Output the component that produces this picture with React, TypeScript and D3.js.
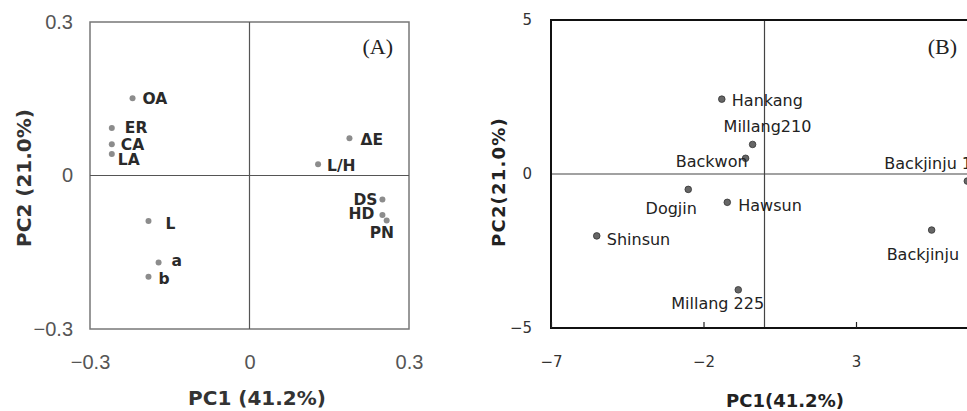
import * as d3 from "d3";
import React, { useEffect, useRef } from "react";

// (A) loadings of the quality variables
const varNames = ["OA", "ER", "CA", "LA", "L", "a", "b", "ΔE", "L/H", "DS", "HD", "PN"];
const varPC1 = [-0.22, -0.259, -0.259, -0.259, -0.19, -0.171, -0.19, 0.188, 0.129, 0.25, 0.25, 0.258];
const varPC2 = [0.151, 0.093, 0.061, 0.042, -0.089, -0.17, -0.198, 0.073, 0.022, -0.047, -0.077, -0.088];
const loadTicks = [-0.3, 0, 0.3];

// (B) scores of the cultivars
const cultivars = ["Hankang", "Millang210", "Backwon", "Dogjin", "Hawsun", "Shinsun", "Millang 225", "Backjinju", "Backjinju 1"];
const cultPC1 = [-1.4, -0.39, -0.62, -2.5, -1.22, -5.5, -0.86, 5.48, 6.65];
const cultPC2 = [2.43, 0.96, 0.51, -0.5, -0.92, -2.01, -3.76, -1.82, -0.23];
const scoreXTicks = [-7, -2, 3];
const scoreYTicks = [-5, 0, 5];

// label placement beside each dot: dx, dy, anchor
const varLabelPos: [number, number, string][] = [
  [10, 0, "start"], [13, 0, "start"], [9, 0, "start"], [6, 5, "start"],
  [17, 2, "start"], [13, -2, "start"], [10, 2, "start"], [11, 1, "start"],
  [9, 1, "start"], [-5, 0, "end"], [-8, -1, "end"], [-17, 12, "start"],
];
const cultLabelPos: [number, number, string][] = [
  [10, 1, "start"], [-29, -18, "start"], [2, 3, "end"], [-17, 19, "middle"],
  [11, 3, "start"], [10, 3, "start"], [-67, 13, "start"], [-45, 24, "start"],
  [-83, -18, "start"],
];

export default function App() {
  const svgRef = useRef<SVGSVGElement>(null);

  useEffect(() => {
    const svg = d3.select(svgRef.current);
    svg.selectAll("*").remove();

    // ---------- panel A ----------
    const xA = d3.scaleLinear().domain([-0.3, 0.3]).range([90, 409]);
    const yA = d3.scaleLinear().domain([-0.3, 0.3]).range([329, 22]);
    const gA = svg.append("g");

    gA.append("rect")
      .attr("x", xA(-0.3)).attr("y", yA(0.3))
      .attr("width", xA(0.3) - xA(-0.3)).attr("height", yA(-0.3) - yA(0.3))
      .attr("fill", "none").attr("stroke", "#777").attr("stroke-width", 1.5);
    gA.append("line")
      .attr("x1", xA(0)).attr("x2", xA(0)).attr("y1", yA(0.3)).attr("y2", yA(-0.3))
      .attr("stroke", "#555").attr("stroke-width", 1.2);
    gA.append("line")
      .attr("x1", xA(-0.3)).attr("x2", xA(0.3)).attr("y1", yA(0)).attr("y2", yA(0))
      .attr("stroke", "#555").attr("stroke-width", 1.2);

    const axA = gA.append("g").attr("transform", `translate(0,${yA(-0.3)})`)
      .call(d3.axisBottom(xA).tickValues(loadTicks).tickSize(0).tickPadding(26).tickFormat(d3.format("")));
    const ayA = gA.append("g").attr("transform", `translate(${xA(-0.3)},0)`)
      .call(d3.axisLeft(yA).tickValues(loadTicks).tickSize(0).tickPadding(17).tickFormat(d3.format("")));
    [axA, ayA].forEach((a) => {
      a.select(".domain").remove();
      a.selectAll("text").attr("font-family", "Liberation Sans").attr("font-size", 20).attr("fill", "#555");
    });

    const idxA = d3.range(varNames.length);
    gA.selectAll(".dotA").data(idxA).join("circle")
      .attr("cx", (i) => xA(varPC1[i])).attr("cy", (i) => yA(varPC2[i]))
      .attr("r", 3).attr("fill", "#8c8c8c");
    gA.selectAll(".labA").data(idxA).join("text")
      .attr("x", (i) => xA(varPC1[i]) + varLabelPos[i][0])
      .attr("y", (i) => yA(varPC2[i]) + varLabelPos[i][1])
      .attr("dy", "0.36em")
      .attr("text-anchor", (i) => varLabelPos[i][2])
      .attr("font-family", "DejaVu Sans").attr("font-weight", 700).attr("font-size", 15.5)
      .attr("fill", "#2a2a2a")
      .text((i) => varNames[i]);

    gA.append("text").attr("x", 393).attr("y", 54).attr("text-anchor", "end")
      .attr("font-family", "Liberation Serif").attr("font-size", 22).attr("fill", "#222").text("(A)");
    gA.append("text").attr("x", 257).attr("y", 405).attr("text-anchor", "middle")
      .attr("font-family", "DejaVu Sans").attr("font-weight", 700).attr("font-size", 20).attr("fill", "#333")
      .text("PC1 (41.2%)");
    gA.append("text").attr("transform", "translate(31,178) rotate(-90)").attr("text-anchor", "middle")
      .attr("font-family", "DejaVu Sans").attr("font-weight", 700).attr("font-size", 20).attr("fill", "#333")
      .text("PC2 (21.0%)");

    // ---------- panel B ----------
    const xB = d3.scaleLinear().domain([-7, 8]).range([551, 1008.5]);
    const yB = d3.scaleLinear().domain([-5, 5]).range([328, 20]);
    const gB = svg.append("g");

    gB.append("line")
      .attr("x1", xB(0)).attr("x2", xB(0)).attr("y1", yB(5)).attr("y2", yB(-5))
      .attr("stroke", "#444").attr("stroke-width", 1.2);
    gB.append("line")
      .attr("x1", xB(-7)).attr("x2", xB(8)).attr("y1", yB(0)).attr("y2", yB(0))
      .attr("stroke", "#444").attr("stroke-width", 1.2);
    gB.append("rect")
      .attr("x", xB(-7)).attr("y", yB(5))
      .attr("width", xB(8) - xB(-7)).attr("height", yB(-5) - yB(5))
      .attr("fill", "none").attr("stroke", "#111").attr("stroke-width", 2);

    const axB = gB.append("g").attr("transform", `translate(0,${yB(-5)})`)
      .call(d3.axisBottom(xB).tickValues(scoreXTicks).tickSizeInner(-6).tickSizeOuter(0).tickPadding(28).tickFormat(d3.format("")));
    const ayB = gB.append("g").attr("transform", `translate(${xB(-7)},0)`)
      .call(d3.axisLeft(yB).tickValues(scoreYTicks).tickSize(0).tickPadding(19).tickFormat(d3.format("")));
    [axB, ayB].forEach((a) => {
      a.select(".domain").remove();
      a.selectAll("line").attr("stroke", "#222").attr("stroke-width", 1.2);
      a.selectAll("text").attr("font-family", "DejaVu Sans").attr("font-size", 15).attr("fill", "#333");
    });

    const idxB = d3.range(cultivars.length);
    gB.selectAll(".dotB").data(idxB).join("circle")
      .attr("cx", (i) => xB(cultPC1[i])).attr("cy", (i) => yB(cultPC2[i]))
      .attr("r", 3.3).attr("fill", "#666").attr("stroke", "#333").attr("stroke-width", 0.8);
    gB.selectAll(".labB").data(idxB).join("text")
      .attr("x", (i) => xB(cultPC1[i]) + cultLabelPos[i][0])
      .attr("y", (i) => yB(cultPC2[i]) + cultLabelPos[i][1])
      .attr("dy", "0.36em")
      .attr("text-anchor", (i) => cultLabelPos[i][2])
      .attr("font-family", "DejaVu Sans").attr("font-size", 16).attr("fill", "#222")
      .text((i) => cultivars[i]);

    gB.append("text").attr("x", 957).attr("y", 54).attr("text-anchor", "end")
      .attr("font-family", "Liberation Serif").attr("font-size", 22).attr("fill", "#222").text("(B)");
    gB.append("text").attr("x", 785).attr("y", 407).attr("text-anchor", "middle")
      .attr("font-family", "DejaVu Sans").attr("font-weight", 700).attr("font-size", 18).attr("fill", "#222")
      .text("PC1(41.2%)");
    gB.append("text").attr("transform", "translate(505,182) rotate(-90)").attr("text-anchor", "middle")
      .attr("font-family", "DejaVu Sans").attr("font-weight", 700).attr("font-size", 18).attr("fill", "#222")
      .attr("letter-spacing", 1.2)
      .text("PC2(21.0%)");
  }, []);

  return (
    <div style={{ position: "fixed", left: 0, top: 0, width: 967, height: 411, overflow: "hidden", background: "#fff" }}>
      <svg ref={svgRef} width={967} height={411} />
    </div>
  );
}
